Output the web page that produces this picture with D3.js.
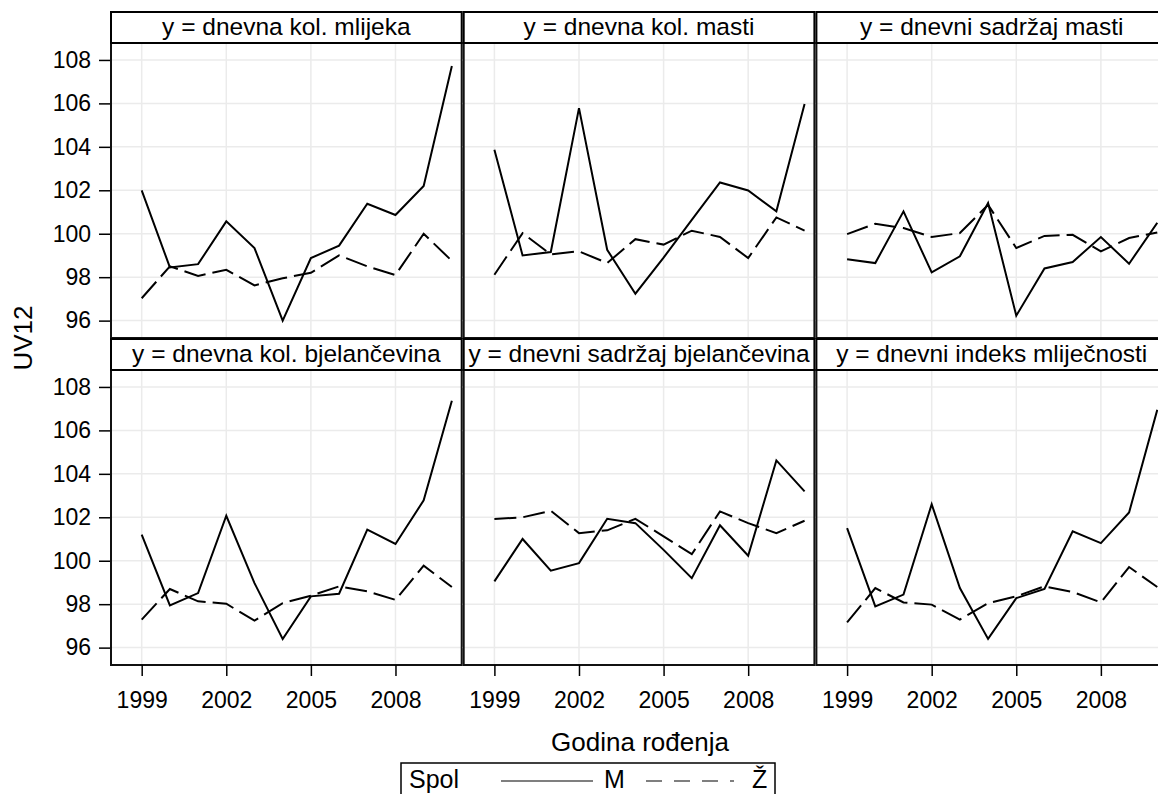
<!DOCTYPE html>
<html>
<head>
<meta charset="utf-8">
<script src="https://cdn.jsdelivr.net/npm/d3@7"></script>
<style>
  body { margin: 0; background: #fff; }
  svg { display: block; font-family: "Liberation Sans", Arial, sans-serif; }
</style>
</head>
<body>
<svg id="chart" width="1158" height="794"></svg>
<script>
// data
var years = [1999, 2000, 2001, 2002, 2003, 2004, 2005, 2006, 2007, 2008, 2009, 2010];
var xTicks = [1999, 2002, 2005, 2008];
var yTicks = [96, 98, 100, 102, 104, 106, 108];
var titles = ["y = dnevna kol. mlijeka", "y = dnevna kol. masti", "y = dnevni sadržaj masti",
              "y = dnevna kol. bjelančevina", "y = dnevni sadržaj bjelančevina", "y = dnevni indeks mliječnosti"];
var spol = ["M", "Ž"];

var kolMlijekaM  = [102.0, 98.45, 98.6, 100.57, 99.34, 96.0, 98.88, 99.45, 101.38, 100.86, 102.2, 107.72];
var kolMlijekaZ  = [97.03, 98.5, 98.06, 98.34, 97.62, 97.95, 98.2, 99.0, 98.5, 98.1, 100.0, 98.75];
var kolMastiM    = [103.87, 99.0, 99.16, 105.78, 99.26, 97.24, 98.9, 100.64, 102.36, 101.99, 101.03, 105.97];
var kolMastiZ    = [98.11, 100.03, 99.05, 99.19, 98.65, 99.75, 99.5, 100.14, 99.85, 98.88, 100.75, 100.14];
var sadMastiM    = [98.83, 98.65, 101.03, 98.22, 98.96, 101.41, 96.23, 98.4, 98.7, 99.85, 98.62, 100.5];
var sadMastiZ    = [99.98, 100.46, 100.26, 99.85, 100.03, 101.33, 99.34, 99.9, 99.95, 99.19, 99.8, 100.06];
var kolBjelM     = [101.2, 97.94, 98.51, 102.07, 98.97, 96.4, 98.36, 98.48, 101.43, 100.77, 102.78, 107.36];
var kolBjelZ     = [97.29, 98.7, 98.13, 98.02, 97.24, 98.05, 98.39, 98.82, 98.59, 98.2, 99.77, 98.79];
var sadBjelM     = [99.05, 101.0, 99.54, 99.89, 101.93, 101.73, 100.5, 99.2, 101.63, 100.23, 104.62, 103.19];
var sadBjelZ     = [101.92, 102.0, 102.3, 101.27, 101.4, 101.93, 101.12, 100.3, 102.27, 101.73, 101.27, 101.84];
var indeksM      = [101.5, 97.9, 98.44, 102.6, 98.74, 96.4, 98.28, 98.7, 101.35, 100.81, 102.22, 106.95];
var indeksZ      = [97.16, 98.74, 98.08, 97.98, 97.29, 98.05, 98.36, 98.82, 98.56, 98.08, 99.71, 98.79];

var seriesM = [kolMlijekaM, kolMastiM, sadMastiM, kolBjelM, sadBjelM, indeksM];
var seriesZ = [kolMlijekaZ, kolMastiZ, sadMastiZ, kolBjelZ, sadBjelZ, indeksZ];

var svg = d3.select("#chart");
var left0 = 110, cellW = 352.7, headH = 31, plotH = 295;
var rowTop = [12, 339];
var fontTick = 23, fontHead = 24.5, fontLabel = 26, fontLegend = 25;
var dash = "22,7";

var x = d3.scaleLinear().domain([1997.876, 2010.384]).range([0, cellW]);
var y = d3.scaleLinear().domain([95.2, 108.78]).range([plotH, 0]);

var line = d3.line()
    .x(function(d, i) { return x(years[i]); })
    .y(function(d) { return y(d); });

var defs = svg.append("defs");
defs.append("clipPath").attr("id", "plotclip")
    .append("rect").attr("width", cellW).attr("height", plotH);

titles.forEach(function(t, k) {
    var col = k % 3, row = Math.floor(k / 3);
    var gx = left0 + col * cellW, gy = rowTop[row];

    var g = svg.append("g").attr("transform", "translate(" + gx + "," + (gy + headH) + ")");

    // grid
    g.selectAll("line.hg").data(yTicks).enter().append("line").attr("class", "hg")
        .attr("x1", 0).attr("x2", cellW)
        .attr("y1", function(d) { return y(d); }).attr("y2", function(d) { return y(d); })
        .attr("stroke", "#ebebeb").attr("stroke-width", 1.5);
    g.selectAll("line.vg").data(xTicks).enter().append("line").attr("class", "vg")
        .attr("y1", 0).attr("y2", plotH)
        .attr("x1", function(d) { return x(d); }).attr("x2", function(d) { return x(d); })
        .attr("stroke", "#ebebeb").attr("stroke-width", 1.5);

    var lines = g.append("g").attr("clip-path", "url(#plotclip)");
    lines.append("path").datum(seriesZ[k]).attr("d", line)
        .attr("fill", "none").attr("stroke", "#000").attr("stroke-width", 2)
        .attr("stroke-dasharray", dash);
    lines.append("path").datum(seriesM[k]).attr("d", line)
        .attr("fill", "none").attr("stroke", "#000").attr("stroke-width", 2);

    g.append("rect").attr("x", 1).attr("y", 0).attr("width", cellW - 2).attr("height", plotH)
        .attr("fill", "none").attr("stroke", "#111").attr("stroke-width", 2);

    // header strip
    var head = svg.append("g").attr("transform", "translate(" + gx + "," + gy + ")");
    head.append("rect").attr("x", 1).attr("width", cellW - 2).attr("height", headH)
        .attr("fill", "#fff").attr("stroke", "#000").attr("stroke-width", 2);
    head.append("text").attr("x", cellW / 2).attr("y", 23)
        .attr("text-anchor", "middle").attr("font-size", fontHead).attr("fill", "#000")
        .text(t);

    if (col == 0) {
        var ay = g.append("g").call(d3.axisLeft(y).tickValues(yTicks).tickSize(11).tickPadding(8));
        ay.select(".domain").remove();
        ay.selectAll("line").attr("stroke", "#000").attr("stroke-width", 1.5);
        ay.selectAll("text").attr("font-size", fontTick).attr("fill", "#000")
            .attr("font-family", "Liberation Sans, Arial, sans-serif");
    }
    if (row == 1) {
        var ax = g.append("g").attr("transform", "translate(0," + plotH + ")")
            .call(d3.axisBottom(x).tickValues(xTicks).tickFormat(d3.format("d")).tickSize(11).tickPadding(16));
        ax.select(".domain").remove();
        ax.selectAll("line").attr("stroke", "#000").attr("stroke-width", 1.5);
        ax.selectAll("text").attr("font-size", fontTick).attr("fill", "#000")
            .attr("font-family", "Liberation Sans, Arial, sans-serif");
    }
});

// axis titles
svg.append("text")
    .attr("transform", "translate(32," + 338 + ") rotate(-90)")
    .attr("text-anchor", "middle").attr("font-size", fontLabel).attr("fill", "#000")
    .text("UV12");
svg.append("text").attr("x", 640).attr("y", 751)
    .attr("text-anchor", "middle").attr("font-size", fontLabel).attr("fill", "#000")
    .text("Godina rođenja");

// legend
var lg = svg.append("g").attr("transform", "translate(401,763)");
lg.append("rect").attr("width", 374).attr("height", 45)
    .attr("fill", "#fff").attr("stroke", "#000").attr("stroke-width", 1.5);
lg.append("text").attr("x", 8).attr("y", 25).attr("font-size", fontLegend).attr("fill", "#000").text("Spol");
var lgItems = lg.selectAll("g.item").data(spol).enter().append("g")
    .attr("transform", function(d, i) { return "translate(" + (100 + i * 145) + ",0)"; });
lgItems.append("line").attr("x1", 0).attr("x2", function(d, i) { return i ? 88 : 92; })
    .attr("y1", 18).attr("y2", 18)
    .attr("stroke", "#000").attr("stroke-width", 1.2)
    .attr("stroke-dasharray", function(d, i) { return i ? "16,12" : null; });
lgItems.append("text").attr("x", function(d, i) { return i ? 106 : 103; }).attr("y", 25)
    .attr("font-size", fontLegend).attr("fill", "#000")
    .text(function(d) { return d; });
</script>
</body>
</html>
